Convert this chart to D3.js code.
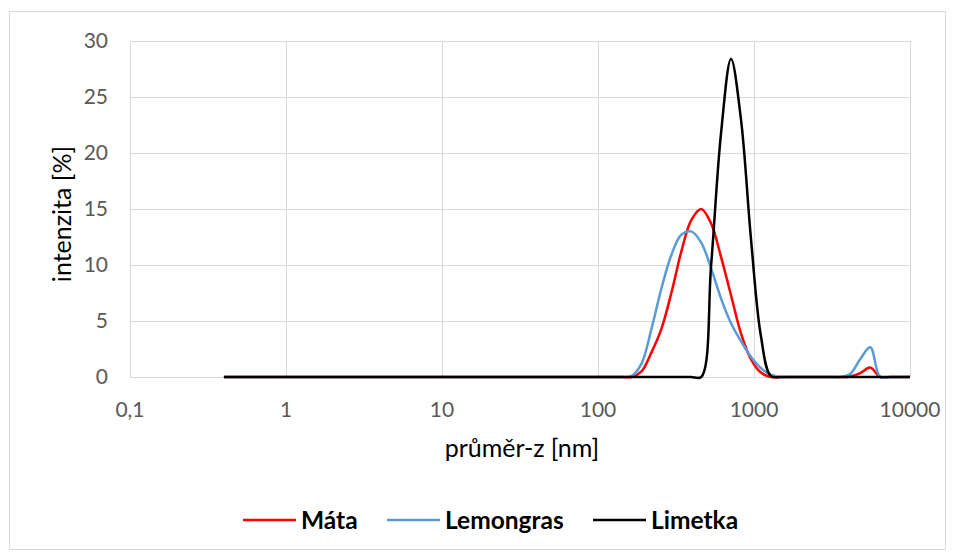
<!DOCTYPE html>
<html><head><meta charset="utf-8">
<script src="https://cdn.jsdelivr.net/npm/d3@7"></script>
<style>body{margin:0;background:#fff}svg{display:block}</style>
</head><body><svg id="c" width="956" height="553"></svg>
<script>
// Zetasizer size bins (nm)
const sizes = [0.4,0.4632,0.5365,0.6213,0.7195,0.8332,0.9649,1.117,1.294,1.499,1.736,2.01,2.328,2.696,3.122,3.615,4.187,4.849,5.615,6.503,7.531,8.721,10.1,11.7,13.54,15.69,18.17,21.04,24.36,28.21,32.67,37.84,43.82,50.75,58.77,68.06,78.82,91.28,105.7,122.4,141.8,164.2,190.1,220.2,255.0,295.3,342.0,396.1,458.7,531.2,615.1,712.4,825.0,955.4,1106,1281,1484,1718,1990,2305,2669,3091,3580,4145,4801,5560,6439,7456,8635,10000];
// intensity values for bins from 141.8 nm upward (bins below are 0)
const mataTail      = [0,0,0.5,2.2,4.3,7.5,11.2,14.0,15.0,13.7,10.7,7.3,3.9,1.6,0.4,0,0,0,0,0,0,0,0,0.05,0.35,0.85,0,0,0,0];
const lemongrasTail = [0,0.1,1.2,4.3,7.9,10.9,12.7,13.0,12.0,9.7,7.0,4.8,3.2,1.8,0.8,0.2,0,0,0,0,0,0,0,0.3,1.6,2.65,0,0,0,0];
const limetkaTail   = [0,0,0,0,0,0,0,0,0,10.0,21.8,28.4,23.0,12.4,3.7,0.1,0,0,0,0,0,0,0,0,0,0,0,0,0,0];
const seriesNames = ["Máta","Lemongras","Limetka"];
const seriesColors = ["#ff0000","#5b9bd5","#000000"];
const xTicks = [0.1,1,10,100,1000,10000];
const xTickLabels = ["0,1","1","10","100","1000","10000"];
const yTicks = [0,5,10,15,20,25,30];

function full(tail){ const pad = sizes.length - tail.length; return sizes.map((s,i)=> i<pad ? 0 : tail[i-pad]); }
const series = [mataTail, lemongrasTail, limetkaTail].map(full);

const svg = d3.select("#c");
const font = "Lato, 'Open Sans', sans-serif";
svg.append("rect").attr("x",9.5).attr("y",11.5).attr("width",936).attr("height",538)
  .attr("fill","#fff").attr("stroke","#d9d9d9").attr("stroke-width",1);

const x = d3.scaleLog().domain([0.1,10000]).range([130,910]);
const y = d3.scaleLinear().domain([0,30]).range([377,41]);

const g = svg.append("g");
g.selectAll(".hg").data(yTicks).join("line")
  .attr("x1",130).attr("x2",910).attr("y1",d=>Math.round(y(d))+0.5).attr("y2",d=>Math.round(y(d))+0.5)
  .attr("stroke","#d9d9d9").attr("stroke-width",1);
g.selectAll(".vg").data(xTicks).join("line")
  .attr("y1",41).attr("y2",377).attr("x1",d=>Math.round(x(d))+0.5).attr("x2",d=>Math.round(x(d))+0.5)
  .attr("stroke","#d9d9d9").attr("stroke-width",1);

g.selectAll(".yl").data(yTicks).join("text")
  .attr("x",108).attr("y",d=>y(d)).attr("dy","0.35em").attr("text-anchor","end")
  .attr("font-family",font).attr("font-size",21).attr("fill","#595959").text(d=>d);
g.selectAll(".xl").data(xTicks).join("text")
  .attr("x",d=>x(d)).attr("y",410).attr("dy","0.35em").attr("text-anchor","middle")
  .attr("font-family",font).attr("font-size",21).attr("fill","#595959").text((d,i)=>xTickLabels[i]);

svg.append("text").attr("x",522).attr("y",448).attr("dy","0.35em").attr("text-anchor","middle")
  .attr("font-family",font).attr("font-size",25).attr("fill","#000").text("průměr-z [nm]");
svg.append("text").attr("transform","translate(62,214) rotate(-90)").attr("dy","0.35em").attr("text-anchor","middle")
  .attr("font-family",font).attr("font-size",25).attr("fill","#000").text("intenzita [%]");

const line = d3.line().x((d,i)=>x(sizes[i])).y(d=>y(d)).curve(d3.curveCatmullRom.alpha(0.5));
series.forEach((s,k)=>{
  svg.append("path").datum(s).attr("d",line).attr("fill","none")
    .attr("stroke",seriesColors[k]).attr("stroke-width",2.5).attr("stroke-linejoin","round");
});

const legX = [243,387,593];
const lg = svg.append("g");
seriesNames.forEach((n,k)=>{
  lg.append("line").attr("x1",legX[k]).attr("x2",legX[k]+53).attr("y1",520).attr("y2",520)
    .attr("stroke",seriesColors[k]).attr("stroke-width",2.5);
  lg.append("text").attr("x",legX[k]+58).attr("y",520).attr("dy","0.35em")
    .attr("font-family",font).attr("font-size",24.5).attr("font-weight","bold").attr("fill","#000").text(n);
});
</script></body></html>
